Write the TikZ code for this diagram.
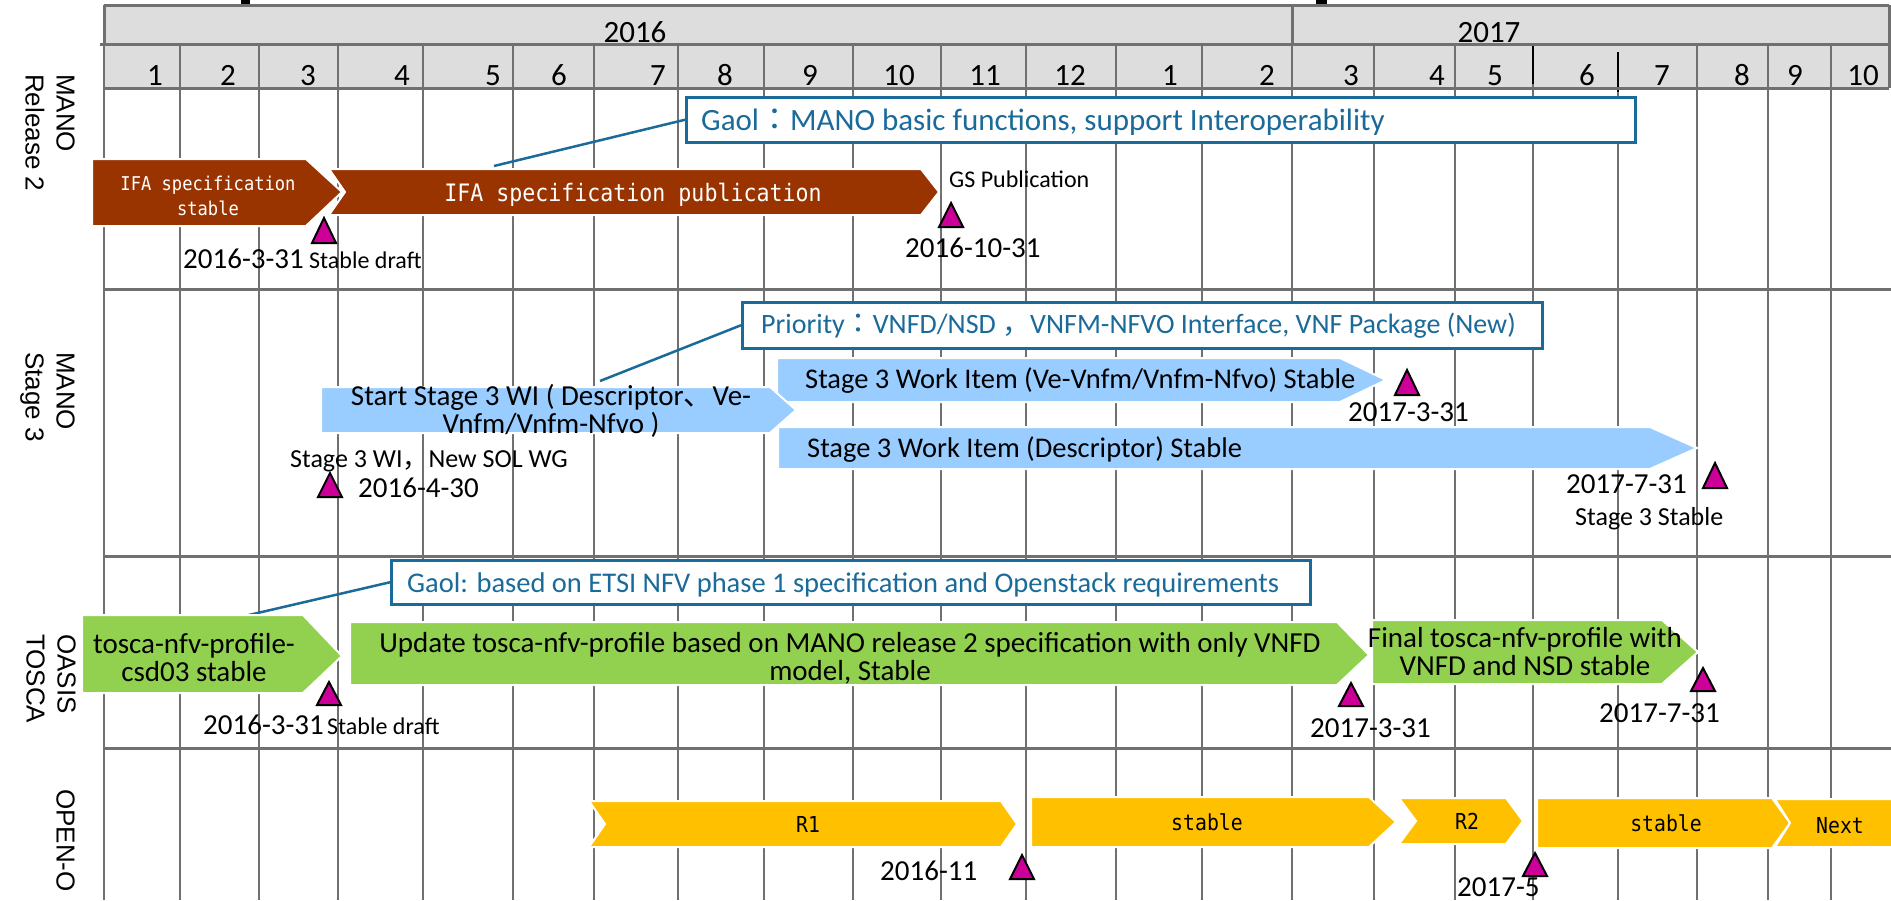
\documentclass[tikz,border=0pt]{standalone}
\usepackage{fontspec}
\setmainfont{Carlito}
\newfontfamily\labfont{Liberation Sans}
\newfontfamily\gothfont[FakeStretch=0.9]{DejaVu Sans Mono}
\newfontfamily\cjk{Noto Sans CJK JP}
\newcommand\fsz[2]{\fontsize{#1}{#2}\selectfont}
\definecolor{brownA}{HTML}{993300}
\definecolor{blueA}{HTML}{99CCFF}
\definecolor{greenA}{HTML}{92D050}
\definecolor{orangeA}{HTML}{FFC000}
\definecolor{magentaA}{HTML}{CC0099}
\definecolor{gaolblue}{HTML}{1A6A9A}
\definecolor{gridgray}{HTML}{707070}
\definecolor{headgray}{HTML}{DDDDDD}
\newcommand\barshape[8]{\filldraw[barstyle, fill=#1] (#2,#6) -- (#4,#6) -- (#5,#8) -- (#4,#7) -- (#2,#7) -- (#3,#8) -- cycle;}
\newcommand\mstone[3]{\draw[milestone] (#1-12,#3) -- (#1,#2) -- (#1+12,#3) -- cycle;}
\tikzset{
  gridline/.style={draw=gridgray, line width=2pt},
  headline/.style={draw=gridgray, line width=3pt},
  barstyle/.style={draw=white, line width=2pt, line join=miter},
  milestone/.style={fill=magentaA, draw=black, line width=2pt, line join=miter},
  gaolbox/.style={draw=gaolblue, line width=2.5pt, fill=white, inner sep=0pt, anchor=north west},
  gaoltext/.style={text=gaolblue, inner sep=0pt, anchor=base west},
  callout/.style={draw=gaolblue, line width=2.5pt},
  rowlabel/.style={font=\labfont\fsz{26}{31}, rotate=-90, align=left, anchor=north west, inner sep=0pt},
  txt/.style={inner sep=0pt, anchor=base west},
  datelbl/.style={txt, font=\fsz{29}{30}},
  smalllbl/.style={txt, font=\fsz{24}{26}},
  midlbl/.style={txt, font=\fsz{26}{28}},
  headlbl/.style={inner sep=0pt, anchor=base, font=\fsz{31}{32}},
  bartext/.style={inner sep=0pt, align=center, font=\fsz{29}{28}},
  bartextL/.style={inner sep=0pt, anchor=base west, font=\fsz{28.5}{28}},
  gothtext/.style={inner sep=0pt, align=center, font=\gothfont\fsz{22}{24}},
}
\begin{document}
\begin{tikzpicture}[x=1pt,y=-1pt]
\useasboundingbox (0,0) rectangle (1891,900);
\clip (0,0) rectangle (1891,900);
\fill[white] (0,0) rectangle (1891,900);
% header
\fill[headgray] (104,5) rectangle (1889,88);
\fill[black] (241,0) rectangle (250,5);
\fill[black] (1316,0) rectangle (1327,4);
\foreach \x in {104,180,259,338,423,513,594,678,764,853,941,1026,1116,1202,1292,1374,1455,1697,1768,1831}
  {\draw[gridline] (\x,44) -- (\x,88); \draw[gridline] (\x,88) -- (\x,900);}
\draw[black, line width=2pt] (1533,44) -- (1533,84);
\draw[gridline] (1533,84) -- (1533,900);
\draw[black, line width=2pt] (1618,52) -- (1618,92);
\draw[gridline] (1618,92) -- (1618,900);
\draw[headline] (104,5) -- (1889,5);
\draw[headline] (100,44) -- (1889,44);
\draw[headline] (104,88) -- (1889,88);
\draw[headline] (104,5) -- (104,44);
\draw[headline] (1292,5) -- (1292,44);
\draw[headline] (1889,5) -- (1889,88);
\draw[headline] (104,289) -- (1891,289);
\draw[headline] (104,556) -- (1891,556);
\draw[headline] (104,748) -- (1891,748);
\node[headlbl] (y16) at (635,42) {2016};
\node[headlbl] (y17) at (1489,42) {2017};
\foreach \x/\m [count=\i] in {155/1,228/2,308/3,402/4,493/5,559/6,658/7,725/8,810/9,899/10,985/11,1070/12,1170/1,1267/2,1351/3,1437/4,1495/5,1587/6,1662/7,1742/8,1795/9,1863/10}
  \node[headlbl] (m\i) at (\x,85) {\m};
% row labels
\node[rowlabel] (lab1) at (75,74) {MANO\\Release 2};
\node[rowlabel] (lab2) at (75,352) {MANO\\Stage 3};
\node[rowlabel] (lab3) at (76,634) {OASIS\\TOSCA};
\node[rowlabel] (lab4) at (75,789) {OPEN-O};
% goal boxes and callouts
\node[gaolbox, minimum width=949pt, minimum height=45pt] (g1) at (685,96) {};
\node[gaoltext, font=\fsz{31}{33}] (g1t) at (701,130) {Gaol{\cjk ：}MANO basic functions, support Interoperability};
\coordinate (c1) at (494,166);
\draw[callout] (g1.west) -- (c1);
\node[gaolbox, minimum width=800pt, minimum height=46pt] (g2) at (741,301) {};
\node[gaoltext, font=\fsz{28}{30}] (g2t) at (761,333) {Priority{\cjk ：}VNFD/NSD {\cjk ，}VNFM-NFVO Interface, VNF Package (New)};
\coordinate (c2) at (600,381);
\draw[callout] (g2.west) -- (c2);
\node[gaolbox, minimum width=919pt, minimum height=44pt] (g3) at (390,559) {};
\node[gaoltext, font=\fsz{28.5}{30}] (g3t) at (407,592) {Gaol: based on ETSI NFV phase 1 specification and Openstack requirements};
\coordinate (c3) at (236,618);
\draw[callout] (g3.west) -- (c3);
% bars
\barshape{brownA}{92}{92}{306}{342}{159}{226}{192}
\barshape{brownA}{329}{345}{921}{939}{169}{215}{192}
\barshape{blueA}{777}{777}{1340}{1386}{358}{402}{380}
\barshape{blueA}{778}{778}{1650}{1697}{427}{469}{448}
\barshape{blueA}{321}{321}{770}{796}{387}{433}{410}
\barshape{greenA}{82}{82}{303}{342}{615}{693}{656}
\barshape{greenA}{350}{350}{1337}{1369}{622}{685}{655}
\barshape{greenA}{1372}{1372}{1662}{1698}{620}{684}{652}
\barshape{orangeA}{589}{605}{1001}{1017}{801}{847}{824}
\barshape{orangeA}{1031}{1031}{1369}{1396}{797}{847}{822}
\barshape{orangeA}{1399}{1416}{1506}{1523}{798}{844}{821}
\barshape{orangeA}{1537}{1537}{1772}{1790}{798}{848}{823}
\barshape{orangeA}{1775}{1790}{1910}{1930}{799}{847}{823}
% bar texts
\node[gothtext, text=white, font=\gothfont\fsz{19}{25}] (a1t) at (208,196) {IFA specification\\stable};
\node[gothtext, text=white, font=\gothfont\fsz{24}{26}] (a2t) at (633,195) {IFA specification publication};
\node[bartext] (b1t) at (551,411) {Start Stage 3 WI ( Descriptor{\cjk 、}Ve-\\Vnfm/Vnfm-Nfvo )};
\node[bartextL] (b2t) at (805,388) {Stage 3 Work Item (Ve-Vnfm/Vnfm-Nfvo) Stable};
\node[bartextL] (b3t) at (807,457) {Stage 3 Work Item (Descriptor) Stable};
\node[bartext] (g1t) at (194,658) {tosca-nfv-profile-\\csd03 stable};
\node[bartext] (g2t) at (850,658) {Update tosca-nfv-profile based on MANO release 2 specification with only VNFD\\model, Stable};
\node[bartext] (g3t) at (1525,652) {Final tosca-nfv-profile with\\VNFD and NSD stable};
\node[gothtext] (r1t) at (808,824) {R1};
\node[gothtext] (st1t) at (1207,822) {stable};
\node[gothtext] (r2t) at (1467,821) {R2};
\node[gothtext] (st2t) at (1666,823) {stable};
\node[gothtext] (nxt) at (1840,826) {Next};
% milestones
\mstone{324}{218}{243}
\mstone{951}{203}{227}
\mstone{330}{473}{497}
\mstone{1407}{370}{395}
\mstone{1715}{463}{488}
\mstone{329}{682}{705}
\mstone{1351}{683}{706}
\mstone{1703}{668}{691}
\mstone{1022}{855}{879}
\mstone{1535}{853}{876}
% labels
\node[datelbl] (d1) at (183,268) {2016-3-31};
\node[smalllbl] (s1) at (309,268) {Stable draft};
\node[smalllbl] (gs) at (949,187) {GS Publication};
\node[datelbl] (d2) at (905,257) {2016-10-31};
\node[midlbl] (sw) at (290,467) {Stage 3 WI{\cjk ，}New SOL WG};
\node[datelbl] (d3) at (358,497) {2016-4-30};
\node[datelbl] (d4) at (1348,421) {2017-3-31};
\node[datelbl] (d5) at (1566,493) {2017-7-31};
\node[midlbl] (s3s) at (1575,525) {Stage 3 Stable};
\node[datelbl] (d6) at (203,734) {2016-3-31};
\node[smalllbl] (s2) at (327,734) {Stable draft};
\node[datelbl] (d7) at (1310,737) {2017-3-31};
\node[datelbl] (d8) at (1599,722) {2017-7-31};
\node[datelbl] (d9) at (880,880) {2016-11};
\node[datelbl] (d10) at (1457,896) {2017-5};
\end{tikzpicture}
\end{document}
